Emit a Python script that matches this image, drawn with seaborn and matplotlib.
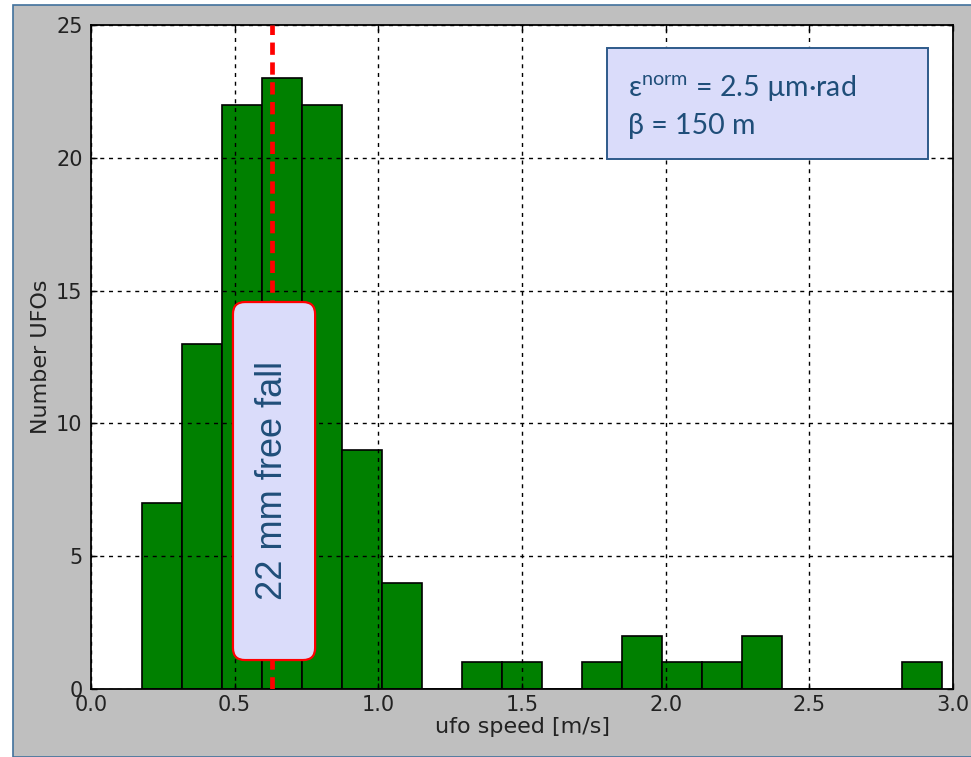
import numpy as np
import matplotlib
matplotlib.use("Agg")
import matplotlib.pyplot as plt
from matplotlib.patches import FancyBboxPatch, Rectangle
import seaborn as sns

# Histogram of measured UFO speeds (20 equal bins between the slowest and fastest event)
bin_lo, bin_hi, n_bins = 0.176, 2.961, 20
counts = [7, 13, 22, 23, 22, 9, 4, 0, 1, 1, 0, 1, 2, 1, 1, 2, 0, 0, 0, 1]
free_fall_speed = 0.63  # m/s after a 22 mm free fall

x_ticks = [0.0, 0.5, 1.0, 1.5, 2.0, 2.5, 3.0]
y_ticks = [0, 5, 10, 15, 20, 25]
x_label = "ufo speed [m/s]"
y_label = "Number UFOs"
beam_lines = [r"$\mathregular{ε^{norm}}$ = 2.5 µm·rad", "β = 150 m"]
fall_label = "22 mm free fall"

width = (bin_hi - bin_lo) / n_bins
centers = bin_lo + width * (np.arange(n_bins) + 0.5)
speeds = np.repeat(centers, counts)

W, H = 971, 757
fig = plt.figure(figsize=(W / 100, H / 100), dpi=100)
fig.patch.set_facecolor("white")
# grey canvas with a thin blue frame
fig.patches.append(Rectangle((13 / W, 0), 1 - 13 / W + 0.01, 1 - 5 / H,
                             transform=fig.transFigure, facecolor="#bfbfbf",
                             edgecolor="#41719c", linewidth=1.2, zorder=-10))

ax = fig.add_axes([91 / W, 1 - 689 / H, (953 - 91) / W, (689 - 25) / H])
ax.set_facecolor("white")

sns.histplot(x=speeds, bins=n_bins, binrange=(bin_lo, bin_hi), ax=ax,
             color="#008000", alpha=1.0, edgecolor="black", linewidth=1.2,
             zorder=2)

ax.set_xlim(0, 3.0)
ax.set_ylim(0, 25)
ax.set_xticks(x_ticks)
ax.set_yticks(y_ticks)
ax.set_xticklabels([f"{t:.1f}" for t in x_ticks])
ax.set_yticklabels([str(t) for t in y_ticks])
ax.tick_params(direction="in", length=4, width=1, colors="black",
               labelsize=15, labelcolor="#222222", top=True, right=True)
ax.tick_params(axis="x", pad=4)
ax.tick_params(axis="y", pad=6)
for s in ax.spines.values():
    s.set_linewidth(1.3)
    s.set_color("black")

ax.grid(True, color="black", linestyle=(0, (2.9, 3.4)), linewidth=1.0, zorder=3)
ax.set_axisbelow(False)
for gl in ax.get_xgridlines() + ax.get_ygridlines():
    gl.set_zorder(3)

ax.set_xlabel(x_label, fontsize=16, color="#222222", labelpad=2)
ax.set_ylabel(y_label, fontsize=16, color="#222222", labelpad=4)

ax.axvline(free_fall_speed, color="red", linewidth=3.4,
           linestyle=(0, (2.6, 1.6)), zorder=4)

# rotated label box on the free-fall line
px_x = 287.3
px_y = 26.56
box = FancyBboxPatch((0.494, 1.09), 0.780 - 0.494, 14.57 - 1.09,
                     boxstyle="round,pad=0,rounding_size=0.042",
                     mutation_aspect=px_x / px_y,
                     facecolor="#dadcfa", edgecolor="red", linewidth=1.6,
                     zorder=5)
ax.add_patch(box)
ax.text(free_fall_speed, 7.85, fall_label, rotation=90, ha="center",
        va="center", fontsize=26, color="#1f4e79",
        family="Liberation Sans", zorder=6)

# beam parameter box
info = Rectangle((1.796, 19.97), 2.913 - 1.796, 24.13 - 19.97,
                 facecolor="#dadcfa", edgecolor="#2e5a8a", linewidth=1.4,
                 zorder=5)
ax.add_patch(info)
ax.text(1.869, 22.62, beam_lines[0], fontsize=20.5, color="#1f4e79",
        family="Lato", va="center", ha="left", zorder=6)
ax.text(1.869, 21.2, beam_lines[1], fontsize=20.5, color="#1f4e79",
        family="Lato", va="center", ha="left", zorder=6)

fig.savefig("out.png", dpi=100, facecolor=fig.get_facecolor())
